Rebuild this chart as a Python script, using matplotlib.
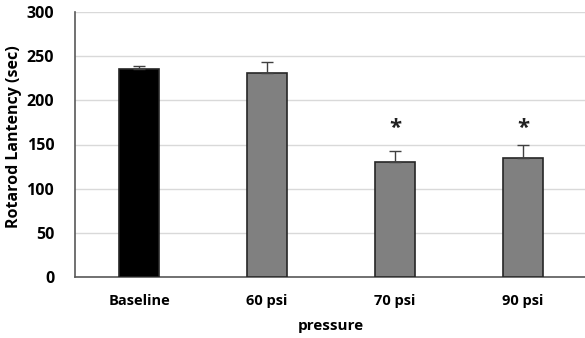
import matplotlib.pyplot as plt
import numpy as np

# values
groups = ["Baseline", "60 psi", "70 psi", "90 psi"]
latency = [235, 231, 130, 135]
latency_err = [4, 12, 13, 15]
significant = [False, False, True, True]
bar_colors = ["#000000", "#808080", "#808080", "#808080"]

plt.rcParams["font.family"] = ["Open Sans", "DejaVu Sans"]

fig = plt.figure(figsize=(5.85, 3.38), dpi=100)
ax = fig.add_axes([75 / 585, 61 / 338, 512 / 585, 265 / 338])

x = np.arange(len(groups))
ax.bar(x, latency, width=0.31, color=bar_colors, edgecolor="#262626",
       linewidth=1.2, zorder=3)
ax.errorbar(x, latency, yerr=[np.zeros(len(x)), latency_err], fmt="none",
            ecolor="#404040", elinewidth=1.0, capsize=4, capthick=1.0, zorder=4)

for xi, val, err, sig in zip(x, latency, latency_err, significant):
    if sig:
        ax.text(xi, 168, "*", ha="center", va="center", fontsize=16,
                fontweight="bold", color="#222222")

ax.set_xlim(-0.5, 3.5)
ax.set_ylim(0, 300)
ax.set_yticks(range(0, 301, 50))
ax.set_xticks(x)
ax.set_xticklabels(groups)
ax.tick_params(length=0)
ax.tick_params(axis="x", pad=12, labelsize=10.5)
ax.tick_params(axis="y", pad=15, labelsize=11.5)
for lab in ax.get_xticklabels() + ax.get_yticklabels():
    lab.set_fontweight("bold")

ax.grid(axis="y", color="#d9d9d9", linewidth=1.0, zorder=0)
ax.set_axisbelow(True)
for side in ["top", "right"]:
    ax.spines[side].set_visible(False)
ax.spines["left"].set_color("#595959")
ax.spines["bottom"].set_color("#595959")
ax.spines["left"].set_linewidth(1.2)
ax.spines["bottom"].set_linewidth(1.2)

ax.set_xlabel("pressure", fontsize=11, fontweight="bold", labelpad=8)
ax.set_ylabel("Rotarod Lantency (sec)", fontsize=11.5, fontweight="bold")
ax.yaxis.set_label_coords(-0.103, 0.528)

fig.savefig("out.png", dpi=100)
